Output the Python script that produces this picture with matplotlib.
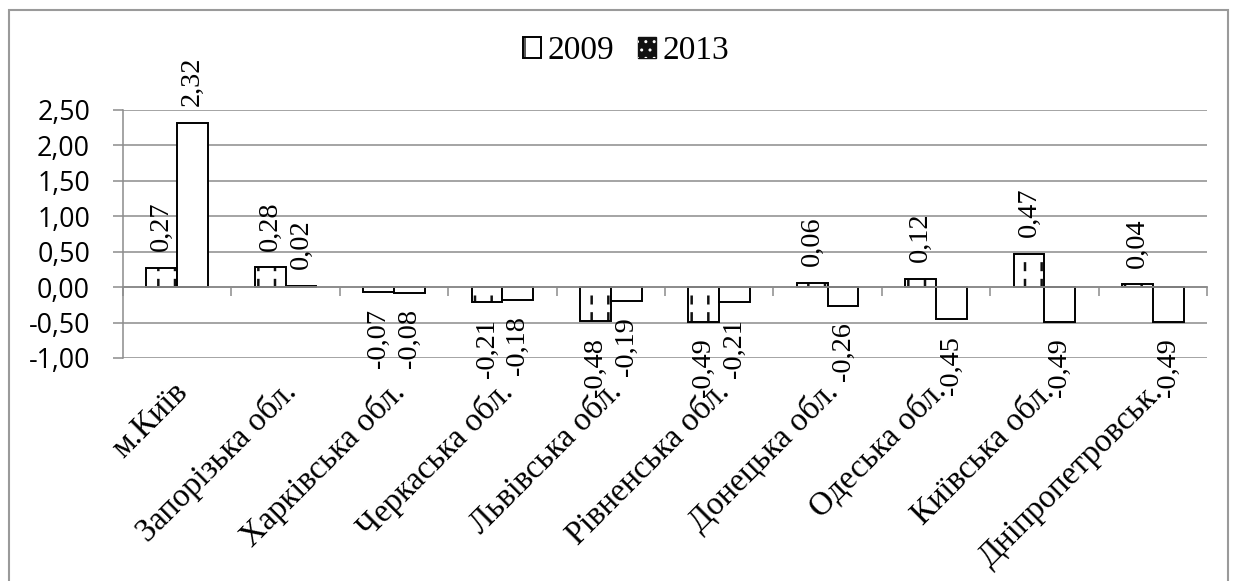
import matplotlib
matplotlib.use("Agg")
import matplotlib.pyplot as plt
from matplotlib.patches import Patch, Rectangle
from matplotlib.legend_handler import HandlerTuple
from matplotlib.ticker import FixedLocator, FuncFormatter
from matplotlib.transforms import ScaledTranslation
import numpy as np

# ---- data -------------------------------------------------------------
regions = ["м.Київ", "Запорізька обл.", "Харківська обл.", "Черкаська обл.",
           "Львівська обл.", "Рівненська обл.", "Донецька обл.", "Одеська обл.",
           "Київська обл.", "Дніпропетровськ."]
values_2009 = [0.27, 0.28, -0.07, -0.21, -0.48, -0.49, 0.06, 0.12, 0.47, 0.04]
values_2013 = [2.32, 0.02, -0.08, -0.18, -0.19, -0.21, -0.26, -0.45, -0.49, -0.49]
series_labels = ["2009", "2013"]
y_ticks = [-1.0, -0.5, 0.0, 0.5, 1.0, 1.5, 2.0, 2.5]

# ---- style ------------------------------------------------------------
SERIF = ["Liberation Serif", "DejaVu Serif"]
SANS = ["Open Sans", "DejaVu Sans"]
GRID = "#8c8c8c"
W_PX, H_PX = 1237, 581


def comma(v, _pos=None):
    return f"{v:.2f}".replace(".", ",")


fig = plt.figure(figsize=(W_PX / 100, H_PX / 100), dpi=100)
fig.patch.set_facecolor("white")

# plot area in pixel terms
left, right, top, bottom = 123, 1207, 110, 358
ax = fig.add_axes([left / W_PX, 1 - bottom / H_PX,
                   (right - left) / W_PX, (bottom - top) / H_PX])

x = np.arange(len(regions))
w = 0.285
x09 = x - w / 2
x13 = x + w / 2

# 2009: vertical hatch broken into dashes by a white horizontal hatch
b_fill = ax.bar(x09, values_2009, w, color="white", edgecolor="#111111",
                linewidth=0, hatch="|", zorder=2)
b_gap = ax.bar(x09, values_2009, w, color="none", edgecolor="white",
               linewidth=0, hatch="-", zorder=3)
b09 = ax.bar(x09, values_2009, w, color="none", edgecolor="black",
             linewidth=1.4, zorder=4)
b13 = ax.bar(x13, values_2013, w, color="white", edgecolor="black",
             linewidth=1.4, zorder=4)

for p in b_fill:
    if hasattr(p, "set_hatch_linewidth"):
        p.set_hatch_linewidth(1.8)
for p in b_gap:
    if hasattr(p, "set_hatch_linewidth"):
        p.set_hatch_linewidth(5.5)

# value labels
for cont, vals in ((b09, values_2009), (b13, values_2013)):
    ax.bar_label(cont, labels=[comma(v) for v in vals], padding=12,
                 rotation=90, fontsize=20.3, family=SERIF, color="black")

# axes ranges
ax.set_xlim(-0.5, len(regions) - 0.5)
ax.set_ylim(y_ticks[0], y_ticks[-1])

# y axis
ax.yaxis.set_major_locator(FixedLocator(y_ticks))
ax.yaxis.set_major_formatter(FuncFormatter(comma))
ax.tick_params(axis="y", which="major", length=7.2, width=1.1, color=GRID,
               pad=16.5, labelsize=19.3)
for lab in ax.get_yticklabels():
    lab.set_family(SANS)
ax.yaxis.grid(True, color=GRID, linewidth=1.1, zorder=0)
ax.set_axisbelow(True)

# x axis on the zero line (drawn over the bars), category labels below
for s in ("top", "right"):
    ax.spines[s].set_visible(False)
ax.spines["left"].set_color(GRID)
ax.spines["left"].set_linewidth(1.1)
ax.spines["bottom"].set_position(("data", 0))
ax.spines["bottom"].set_color(GRID)
ax.spines["bottom"].set_linewidth(1.3)
ax.spines["bottom"].set_zorder(6)

ax.set_xticks(x)
ax.set_xticks(np.arange(len(regions) + 1) - 0.5, minor=True)
ax.tick_params(axis="x", which="major", length=0, pad=72)
ax.tick_params(axis="x", which="minor", length=6.5, width=1.1, color=GRID,
               direction="out")
ax.set_xticklabels(regions, rotation=45, ha="right", va="center",
                   rotation_mode="anchor", fontsize=23.5, family=SERIF)
shift = ScaledTranslation(6 / 100, 0, fig.dpi_scale_trans)
for lab in ax.get_xticklabels():
    lab.set_transform(lab.get_transform() + shift)

# legend
h09 = (Patch(facecolor="white", edgecolor="#111111", linewidth=0, hatch="|"),
       Patch(facecolor="none", edgecolor="black", linewidth=1.4))
h13 = (Patch(facecolor="#111111", edgecolor="#111111", linewidth=1.0),
       Patch(facecolor="none", edgecolor="white", linewidth=0, hatch=".."))
fig.legend([h09, h13], series_labels, loc="center",
           bbox_to_anchor=(0.506, 0.912), ncol=2, frameon=False,
           prop={"family": SERIF, "size": 24},
           handlelength=0.56, handleheight=0.56, handletextpad=0.19,
           columnspacing=0.7, borderpad=0,
           handler_map={tuple: HandlerTuple(ndivide=1, pad=0)})

# outer chart frame
fig.add_artist(Rectangle((9 / W_PX, -0.05), (1228 - 9) / W_PX,
                         1 - 10 / H_PX + 0.05, transform=fig.transFigure,
                         fill=False, edgecolor="#9a9a9a", linewidth=1.5))

fig.savefig("out.png", dpi=100, facecolor="white")
